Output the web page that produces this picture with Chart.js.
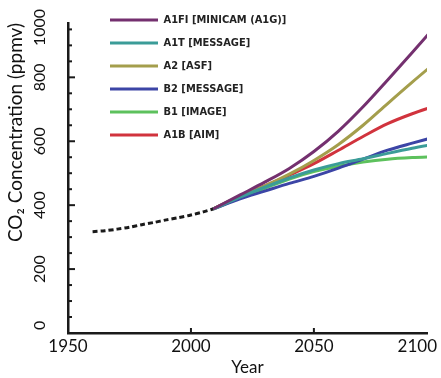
<!DOCTYPE html>
<html>
<head>
<meta charset="utf-8">
<script src="https://cdn.jsdelivr.net/npm/chart.js@4"></script>
<style>
  html, body { margin: 0; padding: 0; background: #fff; }
</style>
</head>
<body>
<canvas id="myChart" width="441" height="378"></canvas>
<script>
// observed record (dashed black)
const histYears = [1960, 1965, 1970, 1975, 1980, 1985, 1990, 1995, 2000, 2005, 2009];
const histCO2 = [317, 320, 325, 331, 339, 346, 354, 361, 369, 379, 388];

// SRES projections
const projYears = [2009, 2020, 2030, 2040, 2050, 2060, 2070, 2080, 2090, 2100];
const scenarioNames = ["A1FI [MINICAM (A1G)]", "A1T [MESSAGE]", "A2 [ASF]", "B2 [MESSAGE]", "B1 [IMAGE]", "A1B [AIM]"];
const a1fi = [388, 432, 472, 515, 568, 632, 708, 792, 878, 965];
const a1t = [388, 425, 456, 485, 510, 530, 545, 562, 578, 592];
const a2 = [388, 428, 460, 497, 540, 590, 650, 718, 785, 850];
const b2 = [388, 420, 444, 468, 490, 516, 544, 572, 594, 615];
const b1 = [388, 423, 453, 482, 505, 522, 535, 544, 549, 552];
const a1b = [388, 428, 460, 494, 530, 572, 615, 655, 686, 712];
const scenarioColors = ["#74306f", "#3b9c98", "#a49e4c", "#3c45a6", "#5dc15d", "#d1333d"];

const yTicks = [0, 200, 400, 600, 800, 1000];
const xTicks = [1950, 2000, 2050, 2100];

const toXY = (xs, ys) => xs.map((x, i) => ({ x: x, y: ys[i] }));

Chart.defaults.font.family = "Lato";
Chart.defaults.color = "#111";

// inward tick marks, rotated y labels, x labels kept inside the canvas
const axisDecor = {
  id: "axisDecor",
  afterLayout(chart) {
    const lg = chart.legend;
    lg.left = chart.chartArea.left + 30;
    lg.top = chart.chartArea.top - 20.5;
  },
  afterDraw(chart) {
    const { ctx, chartArea: a, scales: { x, y } } = chart;
    ctx.save();
    ctx.strokeStyle = "#1a1a1a";
    ctx.lineWidth = 2;
    for (let v = 0; v <= y.max; v += 50) {
      const py = y.getPixelForValue(v);
      const len = v % 200 === 0 ? 7 : 4;
      ctx.beginPath();
      ctx.moveTo(a.left, py);
      ctx.lineTo(a.left + len, py);
      ctx.stroke();
    }
    xTicks.forEach(v => {
      const px = x.getPixelForValue(v);
      if (px > a.left + 2 && px < a.right) {
        ctx.beginPath();
        ctx.moveTo(px, a.bottom);
        ctx.lineTo(px, a.bottom - 5);
        ctx.stroke();
      }
    });

    ctx.fillStyle = "#111";
    ctx.textAlign = "center";
    ctx.textBaseline = "middle";
    ctx.font = "16px Lato";
    yTicks.forEach(v => {
      const t = String(v);
      const w = ctx.measureText(t).width;
      let py = y.getPixelForValue(v);
      py = Math.min(Math.max(py, w / 2 + 9), a.bottom - w / 2 - 3);
      ctx.save();
      ctx.translate(a.left - 28, py);
      ctx.rotate(-Math.PI / 2);
      ctx.fillText(t, 0, 0);
      ctx.restore();
    });

    ctx.font = "17px Lato";
    xTicks.forEach(v => {
      const t = String(v);
      const w = ctx.measureText(t).width;
      const px = Math.min(x.getPixelForValue(v), chart.width - w / 2 - 4);
      ctx.fillText(t, px, a.bottom + 14);
    });
    ctx.restore();
  }
};

const scenarioData = [a1fi, a1t, a2, b2, b1, a1b];
const datasets = [{
  label: "",
  data: toXY(histYears, histCO2),
  borderColor: "#1a1a1a",
  borderWidth: 3,
  borderDash: [5, 3],
  pointRadius: 0,
  tension: 0.3
}];
scenarioNames.forEach((name, i) => {
  datasets.push({
    label: name,
    data: toXY(projYears, scenarioData[i]),
    borderColor: scenarioColors[i],
    backgroundColor: scenarioColors[i],
    borderWidth: 3,
    pointRadius: 0,
    cubicInterpolationMode: "monotone"
  });
});

new Chart(document.getElementById("myChart"), {
  type: "line",
  data: { datasets: datasets },
  options: {
    responsive: false,
    animation: false,
    devicePixelRatio: 1,
    layout: { padding: { top: 23, right: 14, bottom: 0, left: 0 } },
    plugins: {
      tooltip: { enabled: false },
      legend: {
        position: "chartArea",
        align: "start",
        labels: {
          filter: item => item.text !== "",
          usePointStyle: true,
          pointStyle: "line",
          pointStyleWidth: 48,
          padding: 12,
          color: "#222",
          font: { family: "'Liberation Sans Narrow', 'DejaVu Sans Condensed', sans-serif", size: 11, weight: "bold" }
        }
      }
    },
    scales: {
      x: {
        type: "linear",
        min: 1950,
        max: 2096,
        grid: { display: false, drawTicks: false },
        border: { display: true, color: "#1a1a1a", width: 2.5 },
        ticks: { display: false },
        title: { display: true, text: "Year", font: { size: 17 }, padding: { top: 0, bottom: 0 } },
        afterFit: s => { s.height = 45; }
      },
      y: {
        min: 0,
        max: 970,
        grid: { display: false, drawTicks: false },
        border: { display: true, color: "#1a1a1a", width: 2.5 },
        ticks: { display: false },
        title: { display: true, text: "CO\u2082 Concentration (ppmv)", align: "end", font: { size: 19 }, padding: { top: 4, bottom: 0 } },
        afterFit: s => { s.width = 68; }
      }
    }
  },
  plugins: [axisDecor]
});
</script>
</body>
</html>
